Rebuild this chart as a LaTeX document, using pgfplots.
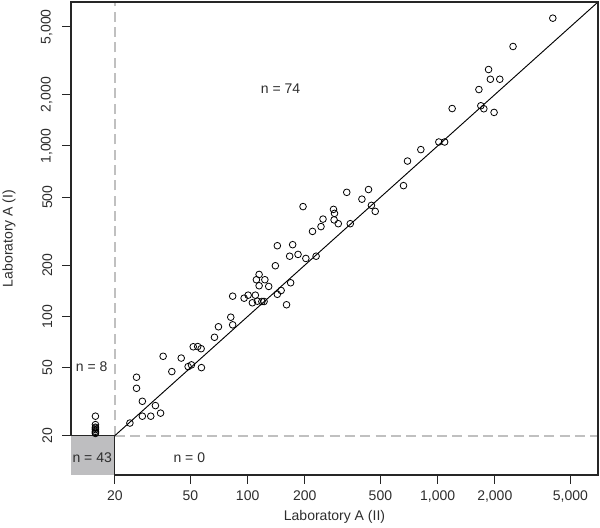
\documentclass[border=0pt]{standalone}
\usepackage{pgfplots}
\usepackage{pgfplotstable}
\pgfplotsset{compat=1.18}
\usepackage{fontspec}
\setmainfont{Liberation Sans}
\definecolor{boxgray}{RGB}{190,190,192}
\definecolor{dashgray}{RGB}{192,192,192}
\definecolor{txt}{RGB}{45,45,45}

\pgfplotstableread{
x y
24.0 23.7
26.0 44.0
26.0 37.9
27.9 31.8
27.9 26.0
30.9 26.0
32.7 30.0
34.8 27.1
35.9 58.4
39.9 47.5
44.7 57.0
48.6 50.8
50.6 52.0
51.7 66.4
54.6 66.6
56.9 64.7
57.1 50.1
66.9 75.5
70.2 87.0
81.5 99.0
83.4 131.5
83.4 89.3
95.8 128.0
100.6 133.3
105.9 120.3
109.8 133.3
111.2 164.2
114.9 176.4
114.9 151.4
112.5 122.9
118.8 122.4
122.0 122.4
123.2 164.2
129.1 150.0
139.9 198.4
143.3 134.9
150.1 142.0
160.2 117.1
143.3 259.9
166.4 225.6
168.4 157.6
172.6 263.6
184.2 231.1
202.5 218.9
229.3 225.6
195.7 441.0
219.5 315.4
243.3 336.6
249.3 372.5
283.1 424.7
286.6 402.3
285.2 368.5
300.0 350.0
332.5 534.6
346.9 350.0
399.6 487.5
432.9 555.1
448.4 448.3
469.5 413.3
661.6 585.2
694.3 815.7
816.1 952.0
1015 1055
1089 1055
1193 1658
1650 2143
1689 1721
1751 1653
1983 1573
1855 2808
1896 2462
2125 2462
2495 3833
4041 5618
}\upper

\pgfplotstableread{
x y
15.8 26.0
15.8 23.2
15.8 22.4
15.8 22.1
15.8 21.7
15.8 21.2
15.8 20.9
15.8 20.6
}\leftstrip

\begin{document}
\begin{tikzpicture}
\path[use as bounding box] (-53.25pt,-39.75pt) rectangle (396.75pt,356.25pt);
\begin{axis}[
  at={(0pt,0pt)}, anchor=south west,
  scale only axis, width=395.25pt, height=354.75pt,
  xmode=log, ymode=log,
  xmin=11.75, xmax=6990, ymin=11.75, ymax=6990,
  axis line style={draw=none},
  xtick={20,50,100,200,500,1000,2000,5000},
  xticklabels={20,50,100,200,500,{1,000},{2,000},{5,000}},
  ytick={20,50,100,200,500,1000,2000,5000},
  yticklabels={20,50,100,200,500,{1,000},{2,000},{5,000}},
  minor xtick={}, minor ytick={},
  tick align=outside, xtick pos=bottom, ytick pos=left,
  major tick length=6.5pt,
  every tick/.style={black!85, line width=0.7pt},
  /pgf/number format/assume math mode=true,
  ticklabel style={font=\fontsize{10.5}{12}\selectfont, text=txt},
  xticklabel shift=1.5pt,
  yticklabel style={rotate=90, anchor=south},
  yticklabel shift=4pt,
  xlabel={Laboratory A (II)},
  ylabel={Laboratory A (I)},
  xlabel style={at={(axis description cs:0.5,-0.088)}, anchor=center, font=\fontsize{10.5}{12}\selectfont, text=txt},
  ylabel style={at={(axis description cs:-0.1176,0.5)}, anchor=center, font=\fontsize{10.5}{12}\selectfont, text=txt},
  clip=false,
]
\fill[boxgray] (axis cs:11.75,11.75) rectangle (axis cs:20,20);
\draw[dashgray, line width=1.5pt, dash pattern=on 7.5pt off 4pt] (axis cs:20,20) -- (axis cs:20,6990);
\draw[dashgray, line width=1.5pt, dash pattern=on 7.5pt off 4pt] (axis cs:20,20) -- (axis cs:6990,20);
\addplot[black, line width=0.7pt] coordinates {(20,20) (6990,6990)};
\addplot[only marks, mark=o, mark size=2.5pt, mark options={black, line width=0.6pt}] table[x=x,y=y] {\upper};
\addplot[only marks, mark=o, mark size=2.5pt, mark options={black, line width=0.6pt}] table[x=x,y=y] {\leftstrip};
\draw[black!85, line width=0.8pt] (axis cs:20,11.75) -- (axis cs:6990,11.75) -- (axis cs:6990,6990) -- (axis cs:11.75,6990) -- (axis cs:11.75,20) -- (axis cs:20,20) -- cycle;
\node[text=txt, font=\fontsize{10.5}{12}\selectfont] at (axis cs:149,2180) {n = 74};
\node[text=txt, font=\fontsize{10.5}{12}\selectfont] at (axis cs:15.1,50.8) {n = 8};
\node[text=txt, font=\fontsize{10.5}{12}\selectfont] at (axis cs:15.2,14.9) {n = 43};
\node[text=txt, font=\fontsize{10.5}{12}\selectfont] at (axis cs:49.3,14.9) {n = 0};
\end{axis}
\end{tikzpicture}
\end{document}
